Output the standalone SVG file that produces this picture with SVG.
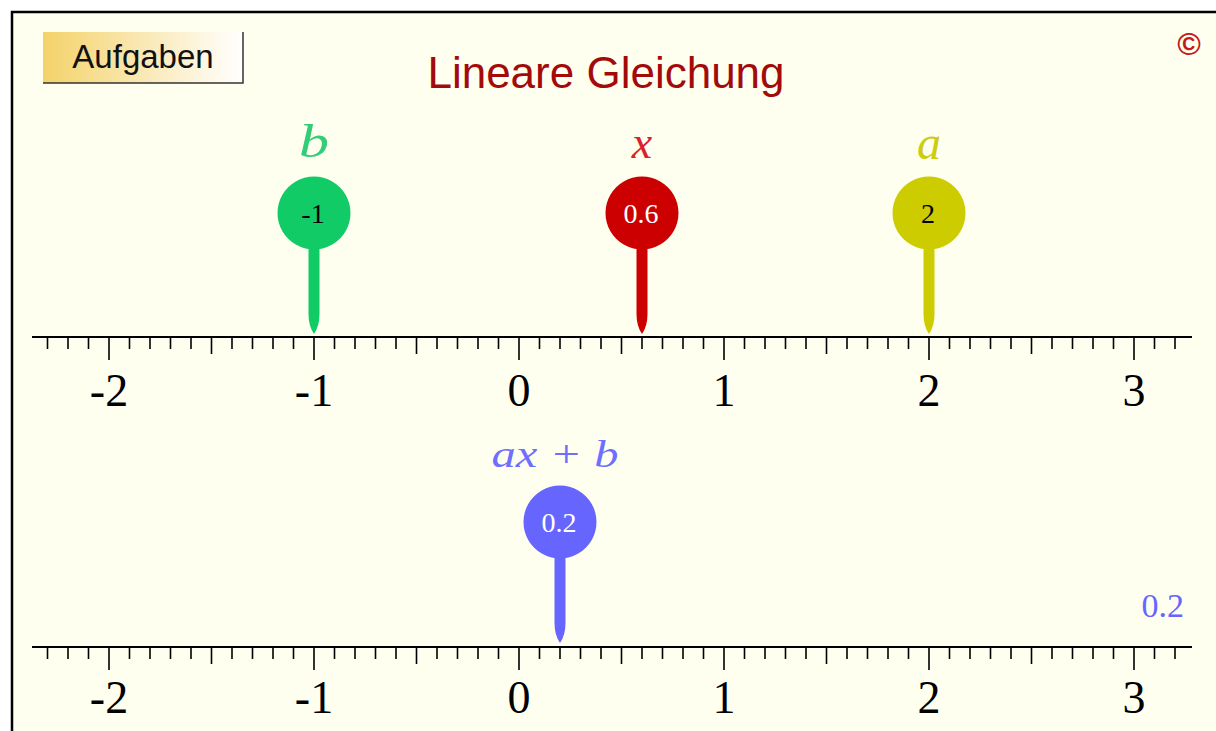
<svg xmlns="http://www.w3.org/2000/svg" xmlns:xlink="http://www.w3.org/1999/xlink" width="1216" height="731" viewBox="0 0 1216 731">
<style>
.axisline{stroke:#000;stroke-width:2;fill:none}
.tick{stroke:#000;stroke-width:1.6;fill:none}
.num{font-family:"Liberation Serif","Times New Roman",serif;font-size:46px;fill:#000;text-anchor:middle}
.lbl{font-family:"Liberation Serif","Times New Roman",serif;font-style:italic;text-anchor:middle}
.val{font-family:"Liberation Serif","Times New Roman",serif;font-size:28px;text-anchor:middle}
</style>
<defs>
<linearGradient id="btn" x1="0" y1="0" x2="1" y2="0">
<stop offset="0" stop-color="#f4d26a"/>
<stop offset="1" stop-color="#ffffff"/>
</linearGradient>
<path id="pin" d="M0 -157.5 A36.5 36.5 0 1 1 -0.01 -157.5 Z M-5.5 -92 L5.5 -92 L5.5 -20 Q5.5 -8 0 0 Q-5.5 -8 -5.5 -20 Z"/>
<g id="ticks">
<path class="axisline" d="M32 0H1192"/>
<path class="tick" d="M47.5 0v12M68 0v12M88.5 0v12M129.5 0v12M150 0v12M170.5 0v12M191 0v12M232 0v12M252.5 0v12M273 0v12M293.5 0v12M334.5 0v12M355 0v12M375.5 0v12M396 0v12M437 0v12M457.5 0v12M478 0v12M498.5 0v12M539.5 0v12M560 0v12M580.5 0v12M601 0v12M642 0v12M662.5 0v12M683 0v12M703.5 0v12M744.5 0v12M765 0v12M785.5 0v12M806 0v12M847 0v12M867.5 0v12M888 0v12M908.5 0v12M949.5 0v12M970 0v12M990.5 0v12M1011 0v12M1052 0v12M1072.5 0v12M1093 0v12M1113.5 0v12M1154.5 0v12M1175 0v12"/>
<path class="tick" d="M211.5 0v17M416.5 0v17M621.5 0v17M826.5 0v17M1031.5 0v17"/>
<path class="tick" d="M109 0v23M314 0v23M519 0v23M724 0v23M929 0v23M1134 0v23"/>
</g>
</defs>
<rect x="0" y="0" width="1216" height="731" fill="#ffffff"/>
<rect x="12" y="12" width="1230" height="740" fill="#fffff0" stroke="#000" stroke-width="2.5"/>

<g id="button">
<rect x="43" y="32" width="200" height="51" fill="url(#btn)"/>
<path d="M243 32V83H43" fill="none" stroke="#333" stroke-width="1.5"/>
<text x="143" y="68" font-family="'Liberation Sans',Arial,sans-serif" font-size="33" text-anchor="middle" fill="#111">Aufgaben</text>
</g>

<g id="title">
<text x="606" y="88" font-family="'Liberation Sans',Arial,sans-serif" font-size="44" text-anchor="middle" fill="#a30a0a">Lineare Gleichung</text>
</g>

<g id="copyright">
<text x="1189" y="55" font-family="'Liberation Sans',Arial,sans-serif" font-size="32" font-weight="bold" text-anchor="middle" fill="#c41a1a">©</text>
</g>

<g id="axis-top">
<use xlink:href="#ticks" href="#ticks" transform="translate(0,337)"/>
<text class="num" x="109" y="406">-2</text>
<text class="num" x="314" y="406">-1</text>
<text class="num" x="519" y="406">0</text>
<text class="num" x="724" y="406">1</text>
<text class="num" x="929" y="406">2</text>
<text class="num" x="1134" y="406">3</text>
</g>

<g id="axis-bottom">
<use xlink:href="#ticks" href="#ticks" transform="translate(0,647)"/>
<text class="num" x="109" y="713">-2</text>
<text class="num" x="314" y="713">-1</text>
<text class="num" x="519" y="713">0</text>
<text class="num" x="724" y="713">1</text>
<text class="num" x="929" y="713">2</text>
<text class="num" x="1134" y="713">3</text>
</g>

<g id="pin-b">
<use xlink:href="#pin" href="#pin" transform="translate(314,334)" fill="#11cc66"/>
<text class="lbl" x="314" y="157" font-size="46" fill="#33cc77" textLength="30" lengthAdjust="spacingAndGlyphs">b</text>
<text class="val" x="313" y="223" fill="#000">-1</text>
</g>

<g id="pin-x">
<use xlink:href="#pin" href="#pin" transform="translate(642,334)" fill="#cc0000"/>
<text class="lbl" x="642" y="158" font-size="46" fill="#dd1f2a">x</text>
<text class="val" x="641" y="223" fill="#ffffff">0.6</text>
</g>

<g id="pin-a">
<use xlink:href="#pin" href="#pin" transform="translate(929,334)" fill="#cccc00"/>
<text class="lbl" x="929" y="159" font-size="48" fill="#cccc11">a</text>
<text class="val" x="928" y="223" fill="#000">2</text>
</g>

<g id="pin-axb">
<use xlink:href="#pin" href="#pin" transform="translate(560,643)" fill="#6666ff"/>
<text class="lbl" x="555" y="467" font-size="38" fill="#6f6fff" textLength="127" lengthAdjust="spacingAndGlyphs">ax + b</text>
<text class="val" x="559" y="532" fill="#ffffff">0.2</text>
</g>

<g id="result">
<text x="1184" y="617" font-family="'Liberation Serif','Times New Roman',serif" font-size="34" text-anchor="end" fill="#6666ff">0.2</text>
</g>
</svg>
